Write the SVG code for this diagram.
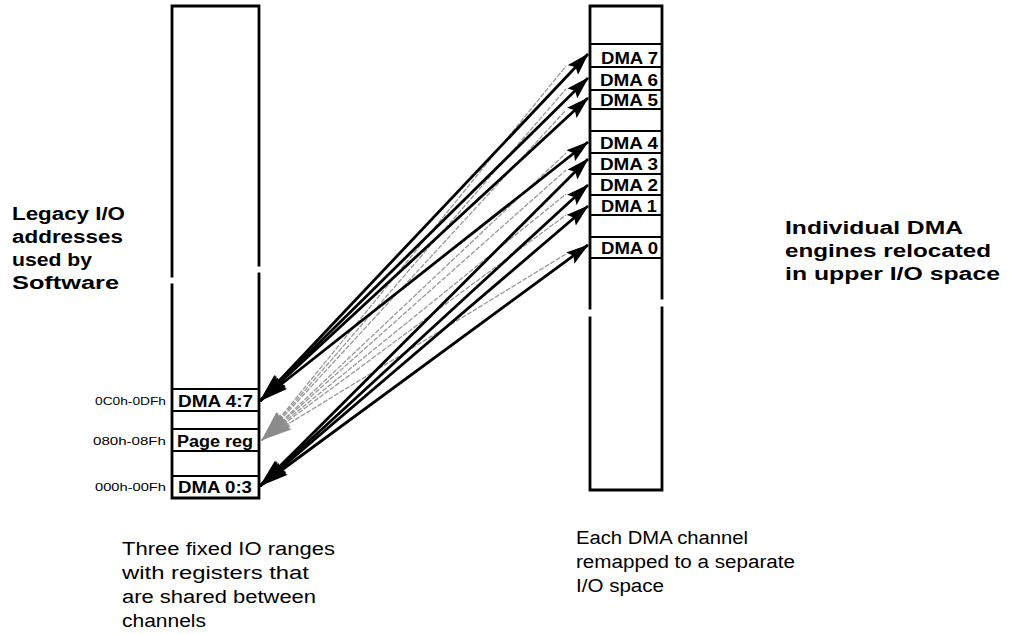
<svg xmlns="http://www.w3.org/2000/svg" width="1012" height="634" viewBox="0 0 1012 634">
<style>
.col{fill:none;stroke:#000;stroke-width:2.8;stroke-linecap:square}
.row{fill:none;stroke:#000;stroke-width:2}
.lbl{font-family:"Liberation Sans",Arial,sans-serif;font-weight:bold;font-size:16px;fill:#000}
.addr{font-family:"Liberation Sans",Arial,sans-serif;font-size:11px;fill:#000}
.head{font-family:"Liberation Sans",Arial,sans-serif;font-weight:bold;font-size:18px;fill:#000}
.note{font-family:"Liberation Sans",Arial,sans-serif;font-size:18px;fill:#000}
.blk{fill:none;stroke:#000;stroke-width:2.8;marker-end:url(#ah);marker-start:url(#ahs)}
.gry{fill:none;stroke:#999;stroke-width:1.3;stroke-dasharray:5 1.5;marker-start:url(#ghs)}
</style>
<defs>
<marker id="ah" viewBox="0 0 23 14" refX="22" refY="7" markerWidth="23" markerHeight="14" markerUnits="userSpaceOnUse" orient="auto">
<path d="M0,0 L23,7 L0,14 L4,7 Z" fill="#000"/>
</marker>
<marker id="ahs" viewBox="0 0 30 15" refX="29" refY="7.5" markerWidth="30" markerHeight="15" markerUnits="userSpaceOnUse" orient="auto-start-reverse">
<path d="M0,0 L30,7.5 L0,15 L5,7.5 Z" fill="#000"/>
</marker>
<marker id="ghs" viewBox="0 0 32 13" refX="31" refY="6.5" markerWidth="32" markerHeight="13" markerUnits="userSpaceOnUse" orient="auto-start-reverse">
<path d="M0,0 L32,6.5 L0,13 L5,6.5 Z" fill="#8c8c8c"/>
</marker>
</defs>

<g id="left-column">
<path class="col" d="M172,276 V6 H259 V265"/>
<path class="col" d="M172,285 V498 H259 V274"/>
<line class="row" x1="172" y1="389" x2="259" y2="389"/>
<line class="row" x1="172" y1="411" x2="259" y2="411"/>
<line class="row" x1="172" y1="429" x2="259" y2="429"/>
<line class="row" x1="172" y1="451" x2="259" y2="451"/>
<line class="row" x1="172" y1="476" x2="259" y2="476"/>
</g>
<g id="node-dma47">
<text class="addr" x="95" y="405" textLength="71" lengthAdjust="spacingAndGlyphs">0C0h-0DFh</text>
<text class="lbl" x="178" y="407" textLength="75" lengthAdjust="spacingAndGlyphs">DMA 4:7</text>
</g>
<g id="node-pagereg">
<text class="addr" x="93" y="445" textLength="73" lengthAdjust="spacingAndGlyphs">080h-08Fh</text>
<text class="lbl" x="177" y="447" textLength="76" lengthAdjust="spacingAndGlyphs">Page reg</text>
</g>
<g id="node-dma03">
<text class="addr" x="95" y="491" textLength="71" lengthAdjust="spacingAndGlyphs">000h-00Fh</text>
<text class="lbl" x="178" y="493" textLength="74" lengthAdjust="spacingAndGlyphs">DMA 0:3</text>
</g>

<g id="right-column">
<path class="col" d="M590,308 V6 H662 V298"/>
<path class="col" d="M590,318 V490 H662 V308"/>
<line class="row" x1="590" y1="44" x2="662" y2="44"/>
<line class="row" x1="590" y1="67" x2="662" y2="67"/>
<line class="row" x1="590" y1="90" x2="662" y2="90"/>
<line class="row" x1="590" y1="109" x2="662" y2="109"/>
<line class="row" x1="590" y1="131" x2="662" y2="131"/>
<line class="row" x1="590" y1="153" x2="662" y2="153"/>
<line class="row" x1="590" y1="174" x2="662" y2="174"/>
<line class="row" x1="590" y1="195" x2="662" y2="195"/>
<line class="row" x1="590" y1="215" x2="662" y2="215"/>
<line class="row" x1="590" y1="237" x2="662" y2="237"/>
<line class="row" x1="590" y1="258" x2="662" y2="258"/>
</g>
<g id="node-dma7"><text class="lbl" x="601" y="64" textLength="57" lengthAdjust="spacingAndGlyphs">DMA 7</text></g>
<g id="node-dma6"><text class="lbl" x="600" y="86" textLength="58" lengthAdjust="spacingAndGlyphs">DMA 6</text></g>
<g id="node-dma5"><text class="lbl" x="600" y="106" textLength="58" lengthAdjust="spacingAndGlyphs">DMA 5</text></g>
<g id="node-dma4"><text class="lbl" x="600" y="149" textLength="58" lengthAdjust="spacingAndGlyphs">DMA 4</text></g>
<g id="node-dma3"><text class="lbl" x="600" y="170" textLength="58" lengthAdjust="spacingAndGlyphs">DMA 3</text></g>
<g id="node-dma2"><text class="lbl" x="600" y="191" textLength="58" lengthAdjust="spacingAndGlyphs">DMA 2</text></g>
<g id="node-dma1"><text class="lbl" x="601" y="212" textLength="56" lengthAdjust="spacingAndGlyphs">DMA 1</text></g>
<g id="node-dma0"><text class="lbl" x="601" y="254" textLength="57" lengthAdjust="spacingAndGlyphs">DMA 0</text></g>

<g id="connectors">
<line class="gry" x1="262" y1="440" x2="566" y2="66"/>
<line class="gry" x1="262" y1="440" x2="566" y2="89"/>
<line class="gry" x1="262" y1="440" x2="566" y2="110"/>
<line class="gry" x1="262" y1="440" x2="566" y2="153"/>
<line class="gry" x1="262" y1="440" x2="566" y2="170"/>
<line class="gry" x1="262" y1="440" x2="566" y2="194"/>
<line class="gry" x1="262" y1="440" x2="566" y2="215"/>
<line class="gry" x1="262" y1="440" x2="566" y2="254"/>
<line class="blk" x1="260" y1="401" x2="588" y2="54"/>
<line class="blk" x1="260" y1="401" x2="588" y2="78"/>
<line class="blk" x1="260" y1="401" x2="588" y2="98"/>
<line class="blk" x1="260" y1="401" x2="588" y2="142"/>
<line class="blk" x1="260" y1="486" x2="588" y2="159"/>
<line class="blk" x1="260" y1="486" x2="588" y2="185"/>
<line class="blk" x1="260" y1="486" x2="588" y2="206"/>
<line class="blk" x1="260" y1="486" x2="588" y2="245"/>
</g>

<g id="label-legacy">
<text class="head" x="12" y="220" textLength="113" lengthAdjust="spacingAndGlyphs">Legacy I/O</text>
<text class="head" x="12" y="243" textLength="111" lengthAdjust="spacingAndGlyphs">addresses</text>
<text class="head" x="12" y="266" textLength="80" lengthAdjust="spacingAndGlyphs">used by</text>
<text class="head" x="12" y="289" textLength="107" lengthAdjust="spacingAndGlyphs">Software</text>
</g>
<g id="label-individual">
<text class="head" x="785" y="234" textLength="178" lengthAdjust="spacingAndGlyphs">Individual DMA</text>
<text class="head" x="785" y="257" textLength="206" lengthAdjust="spacingAndGlyphs">engines relocated</text>
<text class="head" x="785" y="280" textLength="215" lengthAdjust="spacingAndGlyphs">in upper I/O space</text>
</g>
<g id="label-three">
<text class="note" x="122" y="555" textLength="213" lengthAdjust="spacingAndGlyphs">Three fixed IO ranges</text>
<text class="note" x="122" y="579" textLength="187" lengthAdjust="spacingAndGlyphs">with registers that</text>
<text class="note" x="122" y="603" textLength="194" lengthAdjust="spacingAndGlyphs">are shared between</text>
<text class="note" x="122" y="627" textLength="84" lengthAdjust="spacingAndGlyphs">channels</text>
</g>
<g id="label-each">
<text class="note" x="576" y="544" textLength="172" lengthAdjust="spacingAndGlyphs">Each DMA channel</text>
<text class="note" x="576" y="568" textLength="219" lengthAdjust="spacingAndGlyphs">remapped to a separate</text>
<text class="note" x="576" y="592" textLength="88" lengthAdjust="spacingAndGlyphs">I/O space</text>
</g>
</svg>
